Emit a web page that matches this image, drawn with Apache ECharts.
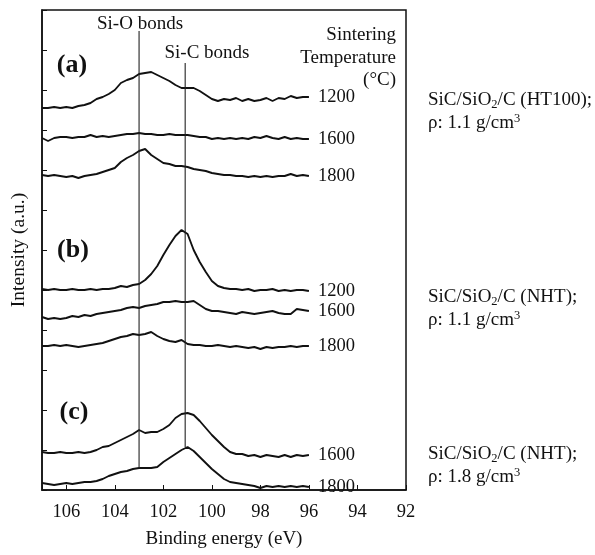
<!DOCTYPE html>
<html>
<head>
<meta charset="utf-8">
<script src="https://cdn.jsdelivr.net/npm/echarts@6/dist/echarts.min.js"></script>
<style>
  html, body { margin: 0; padding: 0; background: #ffffff; }
  #chart { width: 595px; height: 555px; }
</style>
</head>
<body>
<div id="chart"></div>
<script>
const energy = [107, 106.75, 106.5, 106.25, 106, 105.75, 105.5, 105.25, 105, 104.75, 104.5, 104.25, 104,
  103.75, 103.5, 103.25, 103, 102.75, 102.5, 102.25, 102, 101.75, 101.5, 101.25, 101, 100.75, 100.5,
  100.25, 100, 99.75, 99.5, 99.25, 99, 98.75, 98.5, 98.25, 98, 97.75, 97.5, 97.25, 97, 96.75, 96.5, 96.25, 96];

// (a) SiC/SiO2/C (HT100), 1.1 g/cm3
const a1200 = [382,382,383,382,383,382,384,385,387,391,393,396,400,407,410,412,416,417,418,415,412,409,405,402,402,402,399,395,391,389,391,390,392,389,391,389,390,392,389,392,391,394,392,393,393];
const a1600 = [352,349,352,353,353,352,353,353,355,353,354,353,354,355,356,356,357,356,356,355,355,356,355,355,355,354,353,353,351,352,351,352,351,352,351,353,352,354,352,351,353,351,352,351,351];
const a1800 = [315,314,315,314,313,314,312,314,315,316,318,320,322,328,332,335,339,341,335,331,327,326,324,324,323,321,320,319,317,316,315,315,314,314,313,314,313,314,313,314,314,316,314,315,314];
// (b) SiC/SiO2/C (NHT), 1.1 g/cm3
const b1200 = [201,200,201,200,200,201,200,200,201,200,201,201,202,204,203,205,206,210,216,224,235,245,254,260,256,240,228,218,209,204,202,201,201,200,201,199,200,200,201,199,200,199,200,200,199];
const b1600 = [173,171,172,171,172,174,173,175,174,176,177,178,179,180,182,183,182,184,185,186,188,188,189,188,188,189,185,181,179,179,178,177,176,178,177,176,177,178,179,177,176,176,181,180,179];
const b1800 = [144,144,145,144,145,144,143,144,145,146,147,149,151,153,154,156,155,156,158,154,151,149,148,150,146,145,145,144,144,145,144,143,144,143,142,143,141,143,142,143,143,144,143,144,144];
// (c) SiC/SiO2/C (NHT), 1.8 g/cm3
const c1600 = [38,37,37,38,37,37,38,37,38,40,43,44,47,50,53,56,60,57,58,58,61,65,72,76,77,75,69,62,55,49,43,38,36,36,34,35,33,35,34,33,35,33,35,34,35];
const c1800 = [7,6,5,6,7,6,7,8,8,9,11,14,16,18,19,21,22,22,22,23,28,32,36,40,43,39,33,27,21,16,11,8,7,6,5,4,2,4,3,4,3,4,3,4,3];

const curves = [a1200, a1600, a1800, b1200, b1600, b1800, c1600, c1800];
const temps = ['1200', '1600', '1800', '1200', '1600', '1800', '1600', '1800'];

// reference lines: [energy, bottom, top]
const siO = [103, 22, 459];
const siC = [101.1, 43, 427];

const xTicks = [106, 104, 102, 100, 98, 96, 94, 92];

const serif = "'Liberation Serif', 'Times New Roman', serif";

const curveSeries = curves.map((vals, k) => ({
  type: 'line',
  name: temps[k],
  data: vals.map((v, i) => {
    if (i === vals.length - 1) {
      return { value: [energy[i], v], label: { show: true } };
    }
    return [energy[i], v];
  }),
  showSymbol: true,
  symbol: 'circle',
  symbolSize: 0,
  silent: true,
  lineStyle: { color: '#111', width: 1.9 },
  itemStyle: { color: '#111' },
  label: {
    show: false,
    position: 'right',
    distance: 9,
    formatter: temps[k],
    fontFamily: serif,
    fontSize: 18.5,
    color: '#111'
  },
  emphasis: { disabled: true },
  animation: false
}));

const refSeries = [siO, siC].map(r => ({
  type: 'line',
  data: [[r[0], r[1]], [r[0], r[2]]],
  showSymbol: false,
  silent: true,
  lineStyle: { color: '#222', width: 1.1 },
  emphasis: { disabled: true },
  animation: false
}));

function txt(x, y, text, opts) {
  return {
    type: 'text',
    x: x,
    y: y,
    silent: true,
    style: Object.assign({
      text: text,
      fontFamily: serif,
      fontSize: 19,
      fill: '#111',
      align: 'center',
      verticalAlign: 'middle'
    }, opts || {})
  };
}

const rich = {
  sub: { fontFamily: serif, fontSize: 12.5, lineHeight: 12, verticalAlign: 'bottom', fill: '#111' },
  sup: { fontFamily: serif, fontSize: 12.5, lineHeight: 12, verticalAlign: 'top', fill: '#111' }
};

function sample(y, name, rho) {
  return [
    txt(428, y, 'SiC/SiO{sub|2}/C ' + name + ';', { align: 'left', lineHeight: 22, rich: rich }),
    txt(428, y + 23, 'ρ: ' + rho + ' g/cm{sup|3}', { align: 'left', lineHeight: 22, rich: rich })
  ];
}

const chart = echarts.init(document.getElementById('chart'));
chart.setOption({
  backgroundColor: '#ffffff',
  animation: false,
  grid: {
    left: 42, top: 10, width: 364, height: 480,
    show: true, borderColor: '#111', borderWidth: 1.5, backgroundColor: 'transparent'
  },
  xAxis: {
    type: 'value',
    min: 92, max: 107, interval: 2, inverse: true,
    name: 'Binding energy (eV)',
    nameLocation: 'middle',
    nameGap: 40,
    nameTextStyle: { fontFamily: serif, fontSize: 19, color: '#111' },
    axisLine: { show: true, lineStyle: { color: '#111', width: 1.5 } },
    axisTick: { show: true, inside: true, length: 5, lineStyle: { color: '#111', width: 1 } },
    axisLabel: {
      margin: 13,
      fontFamily: serif, fontSize: 18.5, color: '#111',
      formatter: v => (xTicks.indexOf(v) >= 0 ? String(v) : '')
    },
    splitLine: { show: false }
  },
  yAxis: {
    type: 'value',
    min: 0, max: 480, interval: 40,
    name: 'Intensity (a.u.)',
    nameLocation: 'middle',
    nameGap: 13,
    nameTextStyle: { fontFamily: serif, fontSize: 19.5, color: '#111' },
    axisLine: { show: true, lineStyle: { color: '#111', width: 1.5 } },
    axisTick: { show: true, inside: true, length: 5, lineStyle: { color: '#111', width: 1 } },
    axisLabel: { show: false },
    splitLine: { show: false }
  },
  tooltip: { show: false },
  series: curveSeries.concat(refSeries),
  graphic: [
    txt(140, 24, 'Si-O bonds'),
    txt(207, 53, 'Si-C bonds'),
    txt(72, 65, '(a)', { fontWeight: 'bold', fontSize: 26 }),
    txt(73, 250, '(b)', { fontWeight: 'bold', fontSize: 26 }),
    txt(74, 412, '(c)', { fontWeight: 'bold', fontSize: 26 }),
    txt(396, 35, 'Sintering', { align: 'right' }),
    txt(396, 58, 'Temperature', { align: 'right' }),
    txt(396, 80, '(°C)', { align: 'right' })
  ].concat(
    sample(100, '(HT100)', '1.1'),
    sample(297, '(NHT)', '1.1'),
    sample(454, '(NHT)', '1.8')
  )
});
</script>
</body>
</html>
